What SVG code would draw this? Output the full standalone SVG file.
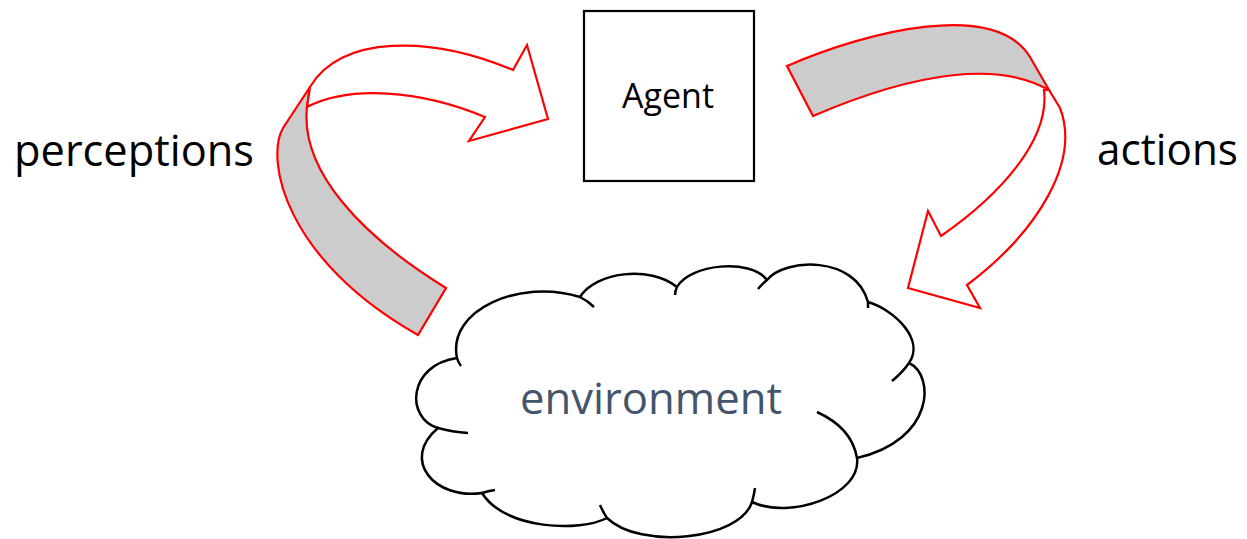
<svg xmlns="http://www.w3.org/2000/svg" width="1247" height="539" viewBox="0 0 1247 539">
  <style>
    .band{fill:#cccccc;stroke:#ff0000;stroke-width:2.2;stroke-linejoin:miter}
    .arrow{fill:#ffffff;stroke:#ff0000;stroke-width:2.2;stroke-linejoin:miter}
    .cloud{fill:#ffffff;stroke:none}
    .cl{fill:none;stroke:#000000;stroke-width:2.5;stroke-linecap:butt}
    .lbl{font-family:"Open Sans","Liberation Sans",sans-serif;fill:#000000}
  </style>
  <rect width="1247" height="539" fill="#ffffff"/>

  <g id="agent">
    <rect x="584" y="11" width="170" height="170" fill="#ffffff" stroke="#000000" stroke-width="2.2"/>
    <text class="lbl" x="668" y="108" font-size="35" text-anchor="middle" textLength="92" lengthAdjust="spacingAndGlyphs">Agent</text>
  </g>

  <g id="environment">
    <path class="cloud" d="M457,358 C447,310 520,278 580,297 C595,272 650,265 677,287 C690,264 750,258 767,280 C785,258 855,255 868,302 C895,310 925,340 909,363 C935,375 935,440 857,458 C862,495 790,520 752,502 C740,540 640,550 607,518 C580,532 505,530 482,493 C435,500 400,460 438,428 C405,418 408,365 457,358 Z"/>
    <path class="cl" d="M461,366 Q458,362 457,358 C447,310 520,278 580,297 Q588,301 594,307"/>
    <path class="cl" d="M580,297 C595,272 650,265 677,287"/>
    <path class="cl" d="M675,295 Q675,291 677,287 C690,264 750,258 767,280"/>
    <path class="cl" d="M758,289 Q762,284 767,280 C785,258 855,255 868,302 L868,308"/>
    <path class="cl" d="M868,302 C895,310 925,340 909,363 Q902,373 892,381"/>
    <path class="cl" d="M909,363 C935,375 935,440 857,458"/>
    <path class="cl" d="M817,412 Q852,428 857,458 C862,495 790,520 752,502"/>
    <path class="cl" d="M755,488 Q754,495 752,502 C740,540 640,550 607,518 Q603,512 600,505"/>
    <path class="cl" d="M607,518 C580,532 505,530 482,493 Q488,491 495,490"/>
    <path class="cl" d="M482,493 C435,500 400,460 438,428 Q452,432 468,433"/>
    <path class="cl" d="M438,428 C405,418 408,365 457,358"/>
    <text x="651" y="414" font-family="Open Sans, Liberation Sans, sans-serif" font-size="44" fill="#44546a" text-anchor="middle" textLength="262" lengthAdjust="spacingAndGlyphs">environment</text>
  </g>

  <g id="connectors">
    <g id="perceptions-arrow">
      <path class="band" d="M310,87 L283,128 C265,160 285,260 418,335 L446,288 C360,235 300,170 307,107 Z"/>
      <path class="arrow" d="M310,87 C340,35 430,35 513,70 L527,45 L548,119 L469,141 L485,117 C420,90 350,85 307,107 Z"/>
    </g>
    <g id="actions-arrow">
      <path class="band" d="M787,66 C870,30 995,0 1030,57 L1049,90 C1000,62 920,70 813,116 Z"/>
      <path class="arrow" d="M1049,90 L1060,108 C1080,160 1040,230 967,285 L980,308 L908,288 L928,211 L941,236 C1000,195 1050,140 1044,90 Z"/>
    </g>
  </g>

  <g id="label-perceptions">
    <text class="lbl" x="14" y="166" font-size="44" textLength="240" lengthAdjust="spacingAndGlyphs">perceptions</text>
  </g>
  <g id="label-actions">
    <text class="lbl" x="1097" y="165" font-size="44" textLength="141" lengthAdjust="spacingAndGlyphs">actions</text>
  </g>
</svg>
